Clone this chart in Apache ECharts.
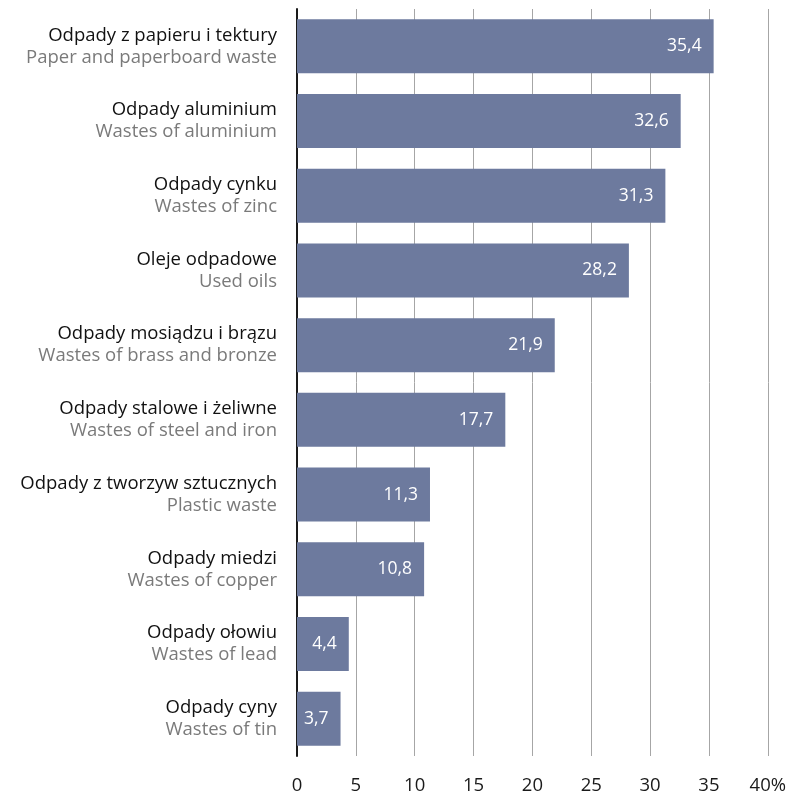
<!DOCTYPE html>
<html><head><meta charset="utf-8">
<script src="https://cdn.jsdelivr.net/npm/echarts@6/dist/echarts.min.js"></script>
<style>html,body{margin:0;padding:0;background:#fff}#c{width:789px;height:795px}</style>
</head><body><div id="c"></div>
<script>
const categoriesPl = ["Odpady z papieru i tektury","Odpady aluminium","Odpady cynku","Oleje odpadowe","Odpady mosiądzu i brązu","Odpady stalowe i żeliwne","Odpady z tworzyw sztucznych","Odpady miedzi","Odpady ołowiu","Odpady cyny"];
const categoriesEn = ["Paper and paperboard waste","Wastes of aluminium","Wastes of zinc","Used oils","Wastes of brass and bronze","Wastes of steel and iron","Plastic waste","Wastes of copper","Wastes of lead","Wastes of tin"];
const values = [35.4,32.6,31.3,28.2,21.9,17.7,11.3,10.8,4.4,3.7];
const tickLabels = ["0","5","10","15","20","25","30","35","40%"];

const chart = echarts.init(document.getElementById('c'), null, {renderer:'canvas'});
const font = '"Open Sans", "Noto Sans", sans-serif';
chart.setOption({
  animation:false,
  grid:{left:297,right:21,top:9,bottom:39,containLabel:false},
  xAxis:{type:'value',min:0,max:40,interval:5,
    axisLine:{show:false},axisTick:{show:false},
    splitLine:{show:true,lineStyle:{color:'#a6a6a6',width:1}},
    axisLabel:{margin:20,color:'#1a1a1a',fontSize:18.5,fontFamily:font,
      formatter:(v)=>tickLabels[Math.round(v/5)]}
  },
  yAxis:{type:'category',inverse:true,data:categoriesPl.map((c,i)=>i),
    axisLine:{show:true,lineStyle:{color:'#1a1a1a',width:2}},
    axisTick:{show:false},
    axisLabel:{margin:20,align:'right',fontFamily:font,
      formatter:(v)=>'{a|'+categoriesPl[v]+'}\n{b|'+categoriesEn[v]+'}',
      rich:{a:{color:'#111',fontSize:18.5,lineHeight:22,fontFamily:font,align:'right'},
            b:{color:'#7a7a7a',fontSize:18.5,lineHeight:22,fontFamily:font,align:'right'}}}
  },
  series:[{type:'bar',data:values,barWidth:54,
    itemStyle:{color:'#6d7a9e'},
    label:{show:true,position:'insideRight',distance:12,color:'#fff',fontSize:17.5,fontFamily:font,
      formatter:(p)=>p.value.toFixed(1).replace('.',',')}
  }]
});
</script></body></html>
